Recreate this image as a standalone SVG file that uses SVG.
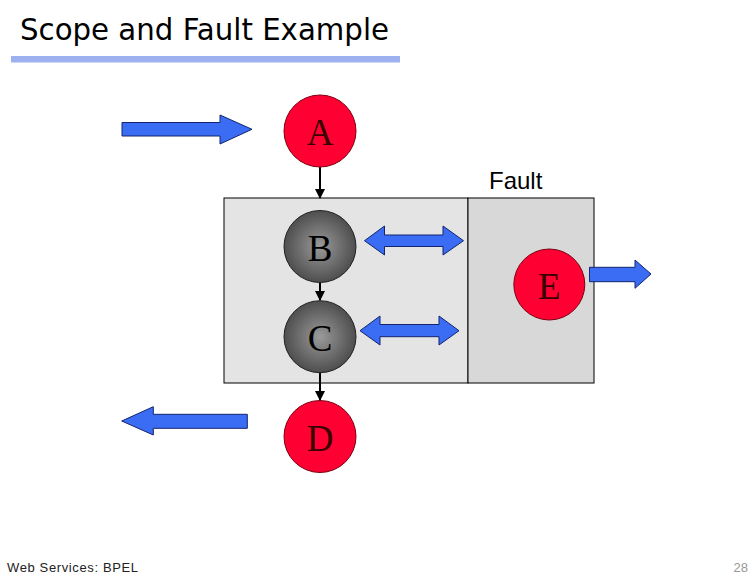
<svg xmlns="http://www.w3.org/2000/svg" width="756" height="576" viewBox="0 0 756 576">
<defs>
<style>
.blue{fill:#3a6cf4;stroke:#14246e;stroke-width:1}
.red{fill:#ff0033;stroke:#7a0010;stroke-width:1}
.grey{fill:url(#g);stroke:#222;stroke-width:1}
.lbl{font-family:"Liberation Serif","Times New Roman",serif;font-size:37px;text-anchor:middle}
.conn{stroke:#000;stroke-width:2;fill:none}
</style>
<radialGradient id="g" cx="0.5" cy="0.5" r="0.5">
<stop offset="0" stop-color="#9a9a9a"/>
<stop offset="1" stop-color="#4e4e4e"/>
</radialGradient>
<marker id="ah" markerWidth="10" markerHeight="10" refX="9" refY="5" orient="auto" markerUnits="userSpaceOnUse">
<path d="M0,0 L10,5 L0,10 Z" fill="#000"/>
</marker>
</defs>
<rect width="756" height="576" fill="#fff"/>
<g id="title">
<text x="20" y="40" font-family="'Comic Sans MS','DejaVu Sans',sans-serif" font-size="30" textLength="369" lengthAdjust="spacingAndGlyphs" fill="#000">Scope and Fault Example</text>
<rect x="11" y="56" width="389" height="6.5" fill="#9db1f0"/>
</g>
<g id="scope">
<rect x="224" y="198" width="244" height="185" fill="#e4e4e4" stroke="#000" stroke-width="1"/>
<rect x="468" y="198" width="126" height="185" fill="#d8d8d8" stroke="#000" stroke-width="1"/>
<text x="489" y="189" font-family="'Liberation Sans',Arial,sans-serif" font-size="24" fill="#000">Fault</text>
</g>
<g id="connectors">
<line class="conn" x1="320" y1="167" x2="320" y2="198" marker-end="url(#ah)"/>
<line class="conn" x1="320" y1="282" x2="320" y2="300" marker-end="url(#ah)"/>
<line class="conn" x1="320" y1="373" x2="320" y2="400" marker-end="url(#ah)"/>
</g>
<g id="arrows">
<path class="blue" d="M122,122.5 L220,122.5 L220,115 L252,129.3 L220,144 L220,136 L122,136 Z"/>
<path class="blue" d="M364.5,240.7 L384.5,226 L384.5,235 L443,235 L443,226 L463.5,240.7 L443,255 L443,246.5 L384.5,246.5 L384.5,255 Z"/>
<path class="blue" d="M360,330.7 L380,316 L380,324.5 L439,324.5 L439,316 L459,330.7 L439,345 L439,336.7 L380,336.7 L380,345 Z"/>
<path class="blue" d="M589.5,267.3 L635,267.3 L635,260 L651,274 L635,288.3 L635,281.7 L589.5,281.7 Z"/>
<path class="blue" d="M247.3,414.3 L153.3,414.3 L153.3,406.7 L121.7,421 L153.3,435 L153.3,428.3 L247.3,428.3 Z"/>
</g>
<g id="A">
<circle class="red" cx="320" cy="131" r="36"/>
<text class="lbl" x="320" y="145" fill="#3a0000">A</text>
</g>
<g id="B">
<circle class="grey" cx="320" cy="246.5" r="36"/>
<text class="lbl" x="320" y="260.5" fill="#000">B</text>
</g>
<g id="C">
<circle class="grey" cx="320" cy="336.7" r="36"/>
<text class="lbl" x="320" y="350.7" fill="#000">C</text>
</g>
<g id="D">
<circle class="red" cx="320" cy="436.5" r="36"/>
<text class="lbl" x="320" y="450.5" fill="#3a0000">D</text>
</g>
<g id="E">
<circle class="red" cx="549.3" cy="284.5" r="35.5"/>
<text class="lbl" x="549.3" y="298.5" fill="#3a0000">E</text>
</g>
<g id="footer">
<text x="7" y="571.5" font-family="'Liberation Sans',Arial,sans-serif" font-size="13" textLength="131" fill="#222">Web Services: BPEL</text>
<text x="748" y="571.5" font-family="'Liberation Sans',Arial,sans-serif" font-size="13" text-anchor="end" fill="#999">28</text>
</g>
</svg>
